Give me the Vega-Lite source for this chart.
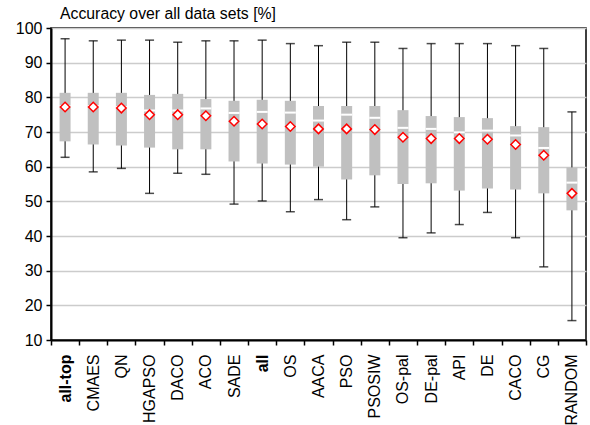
{
  "$schema": "https://vega.github.io/schema/vega-lite/v6.json",
  "autosize": "none",
  "width": 535,
  "height": 312,
  "padding": {"left": 51, "top": 28, "right": 4, "bottom": 85},
  "title": {"text": "Accuracy over all data sets [%]", "anchor": "start", "frame": "group", "dx": 9, "offset": -3, "fontSize": 15.8, "fontWeight": "normal", "font": "Liberation Sans", "color": "black"},
  "config": {
    "view": {"stroke": "black", "strokeWidth": 1.5},
    "axis": {"labelFont": "Liberation Sans", "labelColor": "black", "domainColor": "black", "tickColor": "black", "domainWidth": 2, "tickWidth": 1.5},
    "axisY": {"values": [10, 20, 30, 40, 50, 60, 70, 80, 90, 100], "title": null, "labelFontSize": 16, "tickSize": 5, "labelPadding": 4, "gridColor": "#cccccc", "gridWidth": 1.5, "labelOverlap": false, "tickCount": 10}
  },
  "data": {"values": [
    {"name": "all-top", "wlo": 62.7, "q1": 67.3, "med": 77.5, "q3": 81.3, "whi": 96.9, "mean": 77.2},
    {"name": "CMAES", "wlo": 58.5, "q1": 66.4, "med": 77.5, "q3": 81.3, "whi": 96.3, "mean": 77.2},
    {"name": "QN", "wlo": 59.5, "q1": 66.1, "med": 77.2, "q3": 81.3, "whi": 96.5, "mean": 76.9},
    {"name": "HGAPSO", "wlo": 52.3, "q1": 65.5, "med": 76.2, "q3": 80.7, "whi": 96.5, "mean": 75.0},
    {"name": "DACO", "wlo": 58.1, "q1": 65.0, "med": 76.2, "q3": 81.0, "whi": 95.9, "mean": 75.0},
    {"name": "ACO", "wlo": 57.8, "q1": 65.0, "med": 76.8, "q3": 79.5, "whi": 96.3, "mean": 74.7},
    {"name": "SADE", "wlo": 49.2, "q1": 61.5, "med": 75.5, "q3": 79.0, "whi": 96.3, "mean": 73.1},
    {"name": "all", "wlo": 50.1, "q1": 60.9, "med": 75.8, "q3": 79.3, "whi": 96.5, "mean": 72.3},
    {"name": "OS", "wlo": 47.0, "q1": 60.6, "med": 75.6, "q3": 79.0, "whi": 95.5, "mean": 71.6},
    {"name": "AACA", "wlo": 50.5, "q1": 60.0, "med": 73.3, "q3": 77.5, "whi": 94.9, "mean": 70.9},
    {"name": "PSO", "wlo": 44.7, "q1": 56.3, "med": 75.0, "q3": 77.5, "whi": 95.9, "mean": 70.9},
    {"name": "PSOSIW", "wlo": 48.4, "q1": 57.5, "med": 74.1, "q3": 77.5, "whi": 95.9, "mean": 70.7},
    {"name": "OS-pal", "wlo": 39.5, "q1": 55.0, "med": 71.2, "q3": 76.3, "whi": 94.1, "mean": 68.5},
    {"name": "DE-pal", "wlo": 40.9, "q1": 55.2, "med": 70.9, "q3": 74.6, "whi": 95.5, "mean": 68.1},
    {"name": "API", "wlo": 43.3, "q1": 53.1, "med": 69.9, "q3": 74.3, "whi": 95.5, "mean": 68.1},
    {"name": "DE", "wlo": 46.8, "q1": 53.7, "med": 70.4, "q3": 74.0, "whi": 95.5, "mean": 67.9},
    {"name": "CACO", "wlo": 39.5, "q1": 53.4, "med": 69.0, "q3": 71.7, "whi": 94.9, "mean": 66.4},
    {"name": "CG", "wlo": 31.1, "q1": 52.3, "med": 65.4, "q3": 71.4, "whi": 94.1, "mean": 63.3},
    {"name": "RANDOM", "wlo": 15.6, "q1": 47.4, "med": 55.4, "q3": 59.8, "whi": 75.8, "mean": 52.3}
  ]},
  "encoding": {
    "x": {"field": "name", "type": "nominal", "sort": null, "title": null,
      "scale": {"paddingInner": 0, "paddingOuter": 0},
      "axis": {"labelAngle": -90, "labelFontSize": 16, "tickBand": "extent", "tickSize": 5, "labelPadding": 9,
        "labelFontWeight": {"condition": {"test": "datum.value === 'all-top' || datum.value === 'all'", "value": "bold"}, "value": "normal"}}}
  },
  "layer": [
    {"mark": {"type": "rule", "color": "black", "strokeWidth": 1},
     "encoding": {
       "y": {"field": "wlo", "type": "quantitative", "scale": {"domain": [10, 100], "nice": false, "zero": false}},
       "y2": {"field": "whi"}}},
    {"mark": {"type": "tick", "color": "black", "size": 9, "thickness": 1.5},
     "encoding": {"y": {"field": "whi", "type": "quantitative"}}},
    {"mark": {"type": "tick", "color": "black", "size": 9, "thickness": 1.5},
     "encoding": {"y": {"field": "wlo", "type": "quantitative"}}},
    {"mark": {"type": "bar", "color": "#c0c0c0", "width": 11},
     "encoding": {"y": {"field": "q1", "type": "quantitative"}, "y2": {"field": "q3"}}},
    {"mark": {"type": "tick", "color": "white", "size": 11, "thickness": 2, "opacity": 1},
     "encoding": {"y": {"field": "med", "type": "quantitative"}}},
    {"mark": {"type": "point", "shape": "diamond", "filled": true, "fill": "white", "stroke": "red", "strokeWidth": 1.5, "size": 90, "opacity": 1},
     "encoding": {"y": {"field": "mean", "type": "quantitative"}}}
  ]
}
